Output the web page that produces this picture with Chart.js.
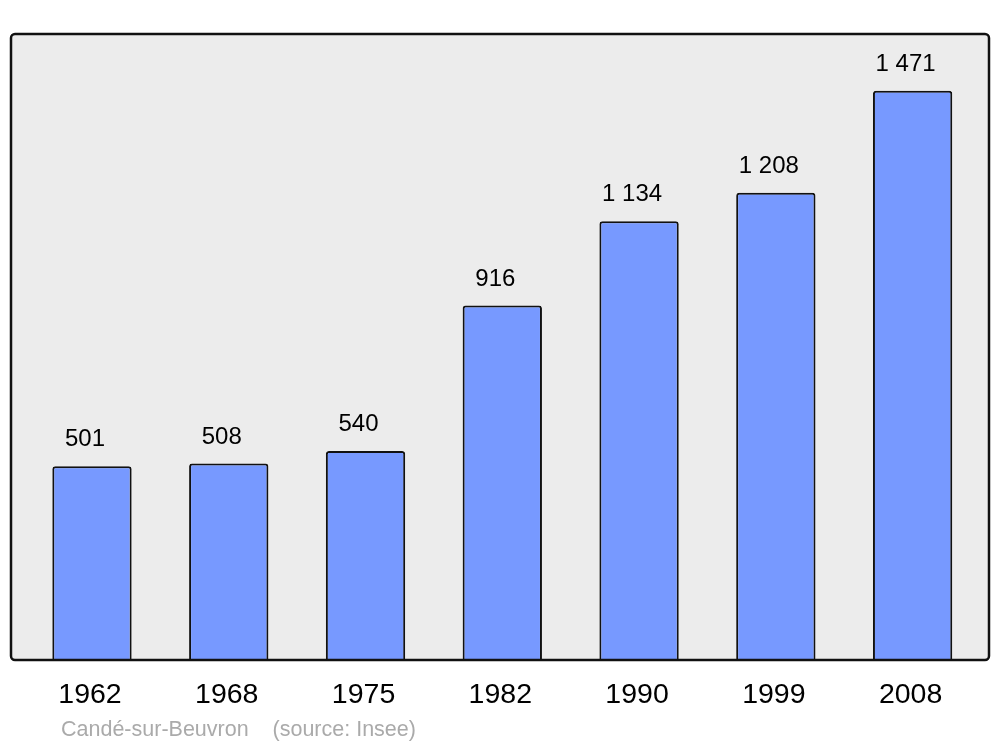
<!DOCTYPE html>
<html>
<head>
<meta charset="utf-8">
<script src="https://cdn.jsdelivr.net/npm/chart.js@4/dist/chart.umd.min.js"></script>
<style>
  html, body { margin: 0; padding: 0; background: #fff; }
  #wrap { width: 1000px; height: 747px; }
</style>
</head>
<body>
<div id="wrap"><canvas id="popChart" width="1000" height="747"></canvas></div>
<script>
// Population data
const years = ['1962', '1968', '1975', '1982', '1990', '1999', '2008'];
const population = [501, 508, 540, 916, 1134, 1208, 1471];
const yMax = 1618;
const caption = 'Candé-sur-Beuvron    (source: Insee)';

// "1471" -> "1 471"
function formatNum(n) {
  return String(n).replace(/\B(?=(\d{3})+(?!\d))/g, ' ');
}

// Grey box with dark border behind the bars
const framePlugin = {
  id: 'frame',
  beforeDraw(chart) {
    const ctx = chart.ctx;
    ctx.save();
    ctx.beginPath();
    ctx.roundRect(11, 34, 978, 626, 4);
    ctx.fillStyle = '#ececec';
    ctx.fill();
    ctx.restore();
  },
  afterDatasetsDraw(chart) {
    const ctx = chart.ctx;
    ctx.save();
    ctx.beginPath();
    ctx.roundRect(11, 34, 978, 626, 4);
    ctx.lineWidth = 2.5;
    ctx.strokeStyle = '#111';
    ctx.stroke();
    ctx.restore();
  }
};

// Value labels above bars, year labels under the frame, caption
const labelPlugin = {
  id: 'labels',
  afterDraw(chart) {
    const ctx = chart.ctx;
    const xScale = chart.scales.x;
    const meta = chart.getDatasetMeta(0);
    ctx.save();
    ctx.fillStyle = '#000';
    ctx.textAlign = 'center';
    ctx.textBaseline = 'middle';
    ctx.font = '24px "Liberation Sans", Arial, sans-serif';
    meta.data.forEach((bar, i) => {
      ctx.fillText(formatNum(population[i]), bar.x - 7, bar.y - 26.5);
    });
    ctx.font = '28.5px "Liberation Sans", Arial, sans-serif';
    years.forEach((y, i) => {
      ctx.fillText(y, xScale.getPixelForValue(i) - 2, 695);
    });
    ctx.textAlign = 'left';
    ctx.fillStyle = '#aaaaaa';
    ctx.font = '21.5px "Liberation Sans", Arial, sans-serif';
    ctx.fillText(caption, 61, 730);
    ctx.restore();
  }
};

const ctx = document.getElementById('popChart').getContext('2d');
const popChart = new Chart(ctx, {
  type: 'bar',
  data: {
    labels: years,
    datasets: [{
      data: population,
      backgroundColor: '#7799ff',
      borderColor: '#111',
      borderWidth: 2,
      borderSkipped: 'bottom',
      borderRadius: { topLeft: 3, topRight: 3 },
      categoryPercentage: 1,
      barPercentage: 0.58
    }]
  },
  options: {
    responsive: false,
    animation: false,
    layout: {
      padding: { left: 23.6, right: 19, top: 34, bottom: 87 }
    },
    plugins: {
      legend: { display: false },
      tooltip: { enabled: false }
    },
    scales: {
      x: { display: false },
      y: { display: false, min: 0, max: yMax }
    }
  },
  plugins: [framePlugin, labelPlugin]
});
</script>
</body>
</html>
